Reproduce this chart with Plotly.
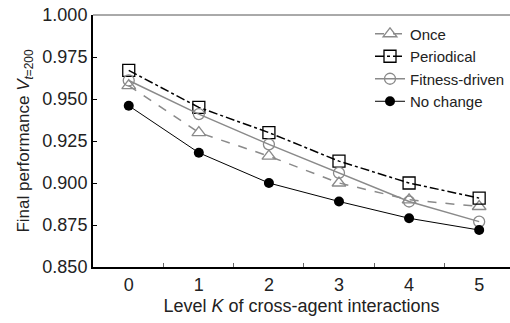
import plotly.graph_objects as go

k_levels = [0, 1, 2, 3, 4, 5]
once = [0.958, 0.930, 0.916, 0.900, 0.890, 0.886]
periodical = [0.967, 0.945, 0.930, 0.913, 0.900, 0.891]
fitness = [0.961, 0.941, 0.923, 0.906, 0.889, 0.877]
no_change = [0.946, 0.918, 0.900, 0.889, 0.879, 0.872]

y_ticks = [0.850, 0.875, 0.900, 0.925, 0.950, 0.975, 1.000]
y_tick_text = ["0.850", "0.875", "0.900", "0.925", "0.950", "0.975", "1.000"]
x_minor = [0.5, 1.5, 2.5, 3.5, 4.5]

FONT = "Liberation Sans, Arial, sans-serif"
GRAY = "#8a8a8a"

fig = go.Figure()
fig.add_trace(go.Scatter(
    x=k_levels, y=once, name="Once", mode="lines+markers",
    line=dict(color=GRAY, width=1.5, dash="dash"),
    marker=dict(symbol="triangle-up-open", size=12, color=GRAY, line=dict(width=1.3)),
))
fig.add_trace(go.Scatter(
    x=k_levels, y=periodical, name="Periodical", mode="lines+markers",
    line=dict(color="black", width=1.5, dash="dashdot"),
    marker=dict(symbol="square-open", size=12, color="black", line=dict(width=1.3)),
))
fig.add_trace(go.Scatter(
    x=k_levels, y=fitness, name="Fitness-driven", mode="lines+markers",
    line=dict(color=GRAY, width=1.5),
    marker=dict(symbol="circle-open", size=11, color=GRAY, line=dict(width=1.3)),
))
fig.add_trace(go.Scatter(
    x=k_levels, y=no_change, name="No change", mode="lines+markers",
    line=dict(color="black", width=1),
    marker=dict(symbol="circle", size=10, color="black"),
))

fig.update_layout(
    width=510, height=323,
    margin=dict(l=93, r=0, t=15, b=56),
    plot_bgcolor="white", paper_bgcolor="white",
    font=dict(family=FONT, size=18, color="#222"),
    showlegend=True,
    legend=dict(x=1.0, xanchor="right", y=0.99, yanchor="top",
                font=dict(size=15, color="#222"), bgcolor="rgba(0,0,0,0)",
                tracegroupgap=0, itemsizing="trace", itemwidth=30),
    xaxis=dict(
        range=[-0.51, 5.44], tickmode="array", tickvals=k_levels,
        ticktext=[str(k) for k in k_levels], ticks="", showgrid=False,
        zeroline=False, showline=True, linecolor="black", linewidth=2,
        tickfont=dict(size=18),
        minor=dict(tickvals=x_minor, ticks="inside", ticklen=4, tickcolor="#666", tickwidth=1),
        title=dict(text="Level <i>K</i> of cross-agent interactions", font=dict(size=18), standoff=6),
    ),
    yaxis=dict(
        range=[0.85, 1.0], tickmode="array", tickvals=y_ticks, ticktext=y_tick_text,
        ticks="inside", ticklen=4, tickcolor="black", showgrid=False, zeroline=False,
        showline=True, linecolor="black", linewidth=2, tickfont=dict(size=18),
        title=dict(text="Final performance <i>V</i><sub><i>t</i>=200</sub>", font=dict(size=17), standoff=8),
    ),
    shapes=[dict(type="line", xref="paper", yref="paper", x0=0, x1=1, y0=1, y1=1,
                 line=dict(color="#555", width=1))],
)

fig.write_html("out.html")
